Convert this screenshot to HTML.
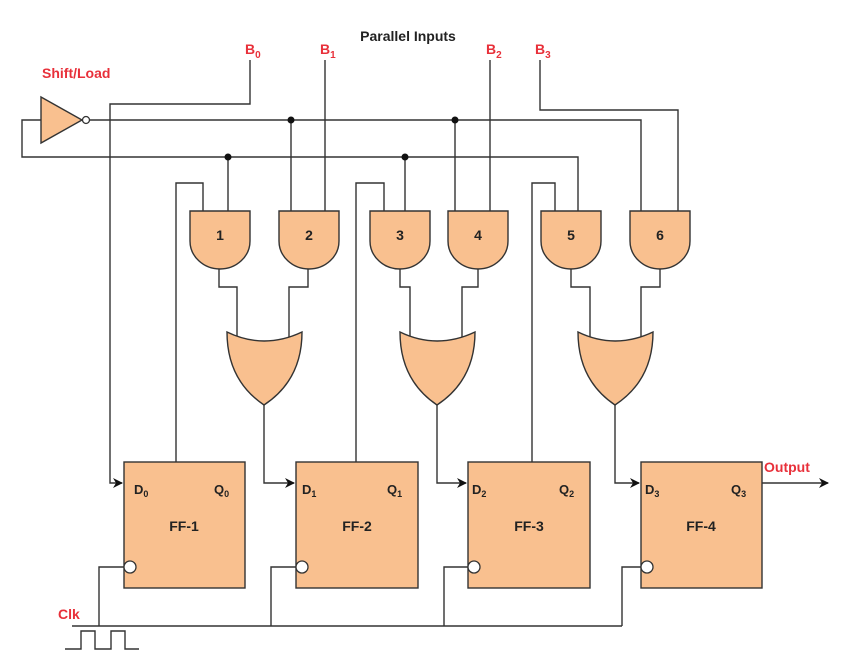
<!DOCTYPE html>
<html><head><style>body{margin:0;background:#fff}svg{display:block}text{font-family:"Liberation Sans",sans-serif}</style></head><body>
<svg width="844" height="657" viewBox="0 0 844 657" xmlns="http://www.w3.org/2000/svg">
<defs><marker id="ar" markerWidth="10" markerHeight="10" refX="9" refY="5" orient="auto" markerUnits="userSpaceOnUse"><path d="M0,0 L10,5 L0,10 L3,5Z" fill="#111"/></marker></defs>
<g fill="none" stroke="#333" stroke-width="1.4">
<path d="M90,120 H641 V211"/>
<path d="M41,120 H22 V157 H578 V211"/>
<path d="M291,120 V211 M228,157 V211 M405,157 V211 M455,120 V211"/>
<path d="M325,60 V211 M490,60 V211"/>
<path d="M540,60 V110 H678 V211"/>
<path d="M250,60 V104 H110 V483 H122" marker-end="url(#ar)"/>
<path d="M176,462 V183 H203 V211"/>
<path d="M356,462 V183 H384 V211"/>
<path d="M532,462 V183 H555 V211"/>
<path d="M219,269 V287 H237 V340 M308,269 V287 H289 V340"/>
<path d="M400,269 V287 H410 V340 M478,269 V287 H462 V340"/>
<path d="M571,269 V287 H590 V340 M660,269 V287 H641 V340"/>
<path d="M264,405 V483 H294" marker-end="url(#ar)"/>
<path d="M437,405 V483 H466" marker-end="url(#ar)"/>
<path d="M615,405 V483 H639" marker-end="url(#ar)"/>
<path d="M762,483 H828" marker-end="url(#ar)"/>
<path d="M72,626 H622 M99,626 V567 H124 M271,626 V567 H296 M444,626 V567 H468 M622,626 V567 H641"/>
<path d="M65,649 H81 V631 H95 V649 H111 V631 H125 V649 H139"/>
</g>
<g fill="#f9c08f" stroke="#333" stroke-width="1.4">
<path d="M41,97 L82,120 L41,143Z"/>
<path d="M190,211 H250 V241 A30,28 0 0 1 190,241Z"/>
<path d="M279,211 H339 V241 A30,28 0 0 1 279,241Z"/>
<path d="M370,211 H430 V241 A30,28 0 0 1 370,241Z"/>
<path d="M448,211 H508 V241 A30,28 0 0 1 448,241Z"/>
<path d="M541,211 H601 V241 A30,28 0 0 1 541,241Z"/>
<path d="M630,211 H690 V241 A30,28 0 0 1 630,241Z"/>
<path d="M227,332 Q264,350 302,332 Q302,380 264,405 Q227,380 227,332Z"/>
<path d="M400,332 Q437,350 475,332 Q475,380 437,405 Q400,380 400,332Z"/>
<path d="M578,332 Q615,350 653,332 Q653,380 615,405 Q578,380 578,332Z"/>
<rect x="124" y="462" width="121" height="126"/>
<rect x="296" y="462" width="122" height="126"/>
<rect x="468" y="462" width="122" height="126"/>
<rect x="641" y="462" width="121" height="126"/>
</g>
<g fill="#fff" stroke="#333" stroke-width="1.3">
<circle cx="86" cy="120" r="3.5"/>
<circle cx="130" cy="567" r="6"/><circle cx="302" cy="567" r="6"/><circle cx="474" cy="567" r="6"/><circle cx="647" cy="567" r="6"/>
</g>
<g fill="#111"><circle cx="291" cy="120" r="3.5"/><circle cx="455" cy="120" r="3.5"/><circle cx="228" cy="157" r="3.5"/><circle cx="405" cy="157" r="3.5"/></g>
<g font-size="14" font-weight="bold" fill="#222" text-anchor="middle">
<text x="220" y="240">1</text><text x="309" y="240">2</text><text x="400" y="240">3</text><text x="478" y="240">4</text><text x="571" y="240">5</text><text x="660" y="240">6</text>
<text x="408" y="41">Parallel Inputs</text>
<text x="184" y="531">FF-1</text><text x="357" y="531">FF-2</text><text x="529" y="531">FF-3</text><text x="701" y="531">FF-4</text>
</g>
<g font-size="13" font-weight="bold" fill="#222">
<text x="134" y="494">D<tspan font-size="9" dy="3">0</tspan></text><text x="214" y="494">Q<tspan font-size="9" dy="3">0</tspan></text>
<text x="302" y="494">D<tspan font-size="9" dy="3">1</tspan></text><text x="387" y="494">Q<tspan font-size="9" dy="3">1</tspan></text>
<text x="472" y="494">D<tspan font-size="9" dy="3">2</tspan></text><text x="559" y="494">Q<tspan font-size="9" dy="3">2</tspan></text>
<text x="645" y="494">D<tspan font-size="9" dy="3">3</tspan></text><text x="731" y="494">Q<tspan font-size="9" dy="3">3</tspan></text>
</g>
<g font-size="14" font-weight="bold" fill="#e8303a">
<text x="42" y="78">Shift/Load</text>
<text x="245" y="54">B<tspan font-size="10" dy="4">0</tspan></text>
<text x="320" y="54">B<tspan font-size="10" dy="4">1</tspan></text>
<text x="486" y="54">B<tspan font-size="10" dy="4">2</tspan></text>
<text x="535" y="54">B<tspan font-size="10" dy="4">3</tspan></text>
<text x="764" y="472">Output</text>
<text x="58" y="619">Clk</text>
</g>
</svg>
</body></html>
